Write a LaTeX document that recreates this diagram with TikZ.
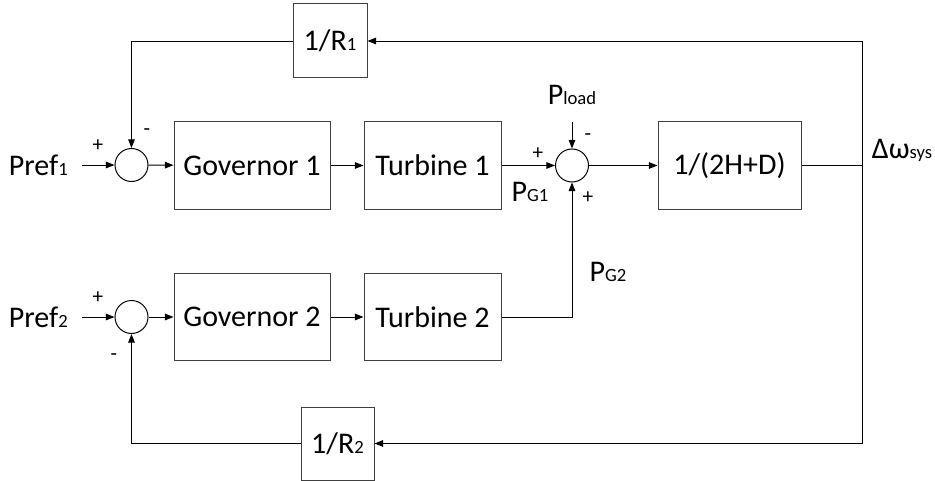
\documentclass[tikz,border=0pt]{standalone}
\usepackage{fontspec}
\setmainfont{Carlito}
\usetikzlibrary{arrows.meta}
\newcommand{\lo}[1]{{\fontsize{14}{16}\selectfont #1}}

\begin{document}
\begin{tikzpicture}[
  x=0.75pt, y=-0.75pt,
  >={Triangle[length=6.5pt,width=5pt]},
  block/.style={draw=black!75, line width=0.75pt, minimum height=65.25pt,
                inner sep=0pt, font=\fontsize{22.5}{27}\selectfont},
  gain/.style={block, minimum width=55.5pt, minimum height=55.5pt},
  sumjn/.style={draw, circle, line width=0.75pt, minimum size=24.75pt, inner sep=0pt},
  lbl/.style={inner sep=0pt, font=\fontsize{22.5}{27}\selectfont},
  sgn/.style={inner sep=0pt, font=\fontsize{16}{18}\selectfont},
  sig/.style={line width=0.7pt},
]
  \useasboundingbox (0,0) rectangle (935,481);

  % Area 1
  \node[sumjn] (sum1) at (131.5,165) {};
  \node[block, minimum width=117pt] (gov1) at (252,165.5) {Governor 1};
  \node[block, minimum width=102.75pt] (tur1) at (432.5,165.5) {Turbine 1};

  % Area 2
  \node[sumjn] (sum2) at (131.5,317) {};
  \node[block, minimum width=117pt] (gov2) at (252,317) {Governor 2};
  \node[block, minimum width=102.75pt] (tur2) at (432.5,317) {Turbine 2};

  % System
  \node[sumjn] (sum3) at (572,165.5) {};
  \node[block, minimum width=107.25pt] (sys) at (729.5,165.5) {1/(2H+D)};
  \coordinate (tap) at (862,165.5);
  \coordinate (ld) at (572,122);

  % Droop gains
  \node[gain] (r1) at (330,41) {1/R\lo{1}};
  \node[gain, minimum width=54.75pt, minimum height=54.75pt] (r2) at (337.5,443.5) {1/R\lo{2}};

  % Labels
  \node[lbl, anchor=east, inner xsep=10.5pt] (pref1) at (82,165) {Pref\lo{1}};
  \node[lbl, anchor=east, inner xsep=10.5pt] (pref2) at (82,317) {Pref\lo{2}};
  \node[lbl] (pload) at (572,95) {P\lo{load}};
  \node[lbl] (pg1) at (530,192) {P\lo{G1}};
  \node[lbl] (pg2) at (608,272) {P\lo{G2}};
  \node[lbl] (dw) at (902,150) {Δω\lo{sys}};

  % Signs
  \node[sgn] (s1a) at (98,146) {+};
  \node[sgn] (s1b) at (147,132) {-};
  \node[sgn] (s2a) at (98,298) {+};
  \node[sgn] (s2b) at (114,357) {-};
  \node[sgn] (s3a) at (538,154) {+};
  \node[sgn] (s3b) at (588,137) {-};
  \node[sgn] (s3c) at (588,198) {+};

  % Forward paths
  \draw[sig, ->] (pref1) -- (sum1);
  \draw[sig, ->] (sum1) -- (gov1);
  \draw[sig, ->] (gov1) -- (tur1);
  \draw[sig, ->] (tur1) -- (sum3);
  \draw[sig, ->] (pref2) -- (sum2);
  \draw[sig, ->] (sum2) -- (gov2);
  \draw[sig, ->] (gov2) -- (tur2);
  \draw[sig, ->] (tur2) -| (sum3);
  \draw[sig, ->] (ld) -- (sum3);
  \draw[sig, ->] (sum3) -- (sys);
  \draw[sig] (sys) -- (tap);

  % Feedback
  \draw[sig, ->] (tap) |- (r1);
  \draw[sig, ->] (tap) |- (r2);
  \draw[sig, ->] (r1) -| (sum1);
  \draw[sig, ->] (r2) -| (sum2);
\end{tikzpicture}
\end{document}
